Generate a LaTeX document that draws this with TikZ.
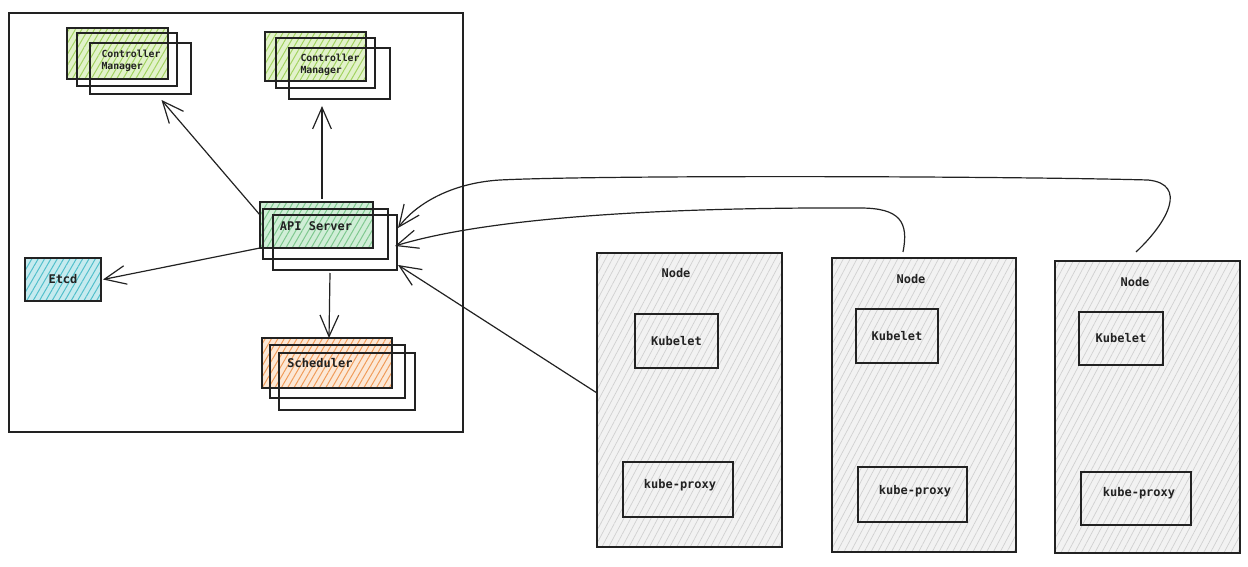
\documentclass[tikz,border=0pt]{standalone}
\usepackage{fontspec}
\setmonofont{DejaVu Sans Mono}
\usetikzlibrary{arrows.meta,patterns.meta}
\definecolor{ink}{HTML}{222222}
\definecolor{limebg}{HTML}{E2F2CB}
\definecolor{limeh}{HTML}{A3D361}
\definecolor{greenbg}{HTML}{D0EED7}
\definecolor{greenh}{HTML}{7FC88F}
\definecolor{orangebg}{HTML}{FCE8D6}
\definecolor{orangeh}{HTML}{F09C5A}
\definecolor{cyanbg}{HTML}{C6EBEF}
\definecolor{cyanh}{HTML}{52BFCB}
\definecolor{greybg}{HTML}{F2F2F2}
\definecolor{greyh}{HTML}{D0D0D0}
\tikzset{
  sk/.style={draw=ink, line width=1.3pt, inner sep=0pt, outer sep=0pt, anchor=north west},
  hatch/.style 2 args={preaction={fill=#1}, pattern={Lines[angle=60,distance=5.5pt,line width=1pt]}, pattern color=#2},
  ghatch/.style={preaction={fill=greybg}, pattern={Lines[angle=62,distance=6pt,line width=0.7pt]}, pattern color=greyh},
  txt/.style={font=\ttfamily\bfseries\fontsize{12}{14}\selectfont, text=ink},
  small/.style={font=\ttfamily\bfseries\fontsize{9.8}{12}\selectfont, text=ink, align=left, inner sep=0pt},
  lbl/.style={txt, inner sep=0pt},
  arr/.style={draw=ink, line width=1.2pt, -{Straight Barb[scale length=5.5, scale width=2.4]}},
}
\begin{document}
\begin{tikzpicture}[x=1pt,y=-1pt]
\useasboundingbox (0,0) rectangle (1248,567);
% control plane frame
\node[sk, minimum width=454pt, minimum height=419pt] (outer) at (9,13) {};
% controller manager 1
\node[sk, hatch={limebg}{limeh}, minimum width=101pt, minimum height=51pt] (cm1b) at (67,28) {};
\node[sk, minimum width=100pt, minimum height=53pt] (cm1m) at (77,33) {};
\node[sk, minimum width=101pt, minimum height=51pt] (cm1f) at (90,43) {};
\node[small] (cm1t) at (131,61) {Controller\\Manager};
% controller manager 2
\node[sk, hatch={limebg}{limeh}, minimum width=101pt, minimum height=49pt] (cm2b) at (265,32) {};
\node[sk, minimum width=99pt, minimum height=50pt] (cm2m) at (276,38) {};
\node[sk, minimum width=101pt, minimum height=51pt] (cm2f) at (289,48) {};
\node[small] (cm2t) at (330,65) {Controller\\Manager};
% api server
\node[sk, hatch={greenbg}{greenh}, minimum width=113pt, minimum height=46pt] (apib) at (260,202) {};
\node[sk, minimum width=125pt, minimum height=50pt] (apim) at (263,209) {};
\node[sk, minimum width=124pt, minimum height=55pt] (apif) at (273,215) {};
\node[lbl] (apit) at (316,226) {API Server};
% etcd
\node[sk, hatch={cyanbg}{cyanh}, minimum width=76pt, minimum height=43pt, txt] (etcd) at (25,258) {Etcd};
% scheduler
\node[sk, hatch={orangebg}{orangeh}, minimum width=130pt, minimum height=50pt] (schb) at (262,338) {};
\node[sk, minimum width=135pt, minimum height=53pt] (schm) at (270,345) {};
\node[sk, minimum width=136pt, minimum height=57pt] (schf) at (279,353) {};
\node[lbl] (scht) at (320,363) {Scheduler};
% worker nodes
\node[sk, ghatch, minimum width=185pt, minimum height=294pt] (n1) at (597,253) {};
\node[sk, ghatch, minimum width=184pt, minimum height=294pt] (n2) at (832,258) {};
\node[sk, ghatch, minimum width=185pt, minimum height=292pt] (n3) at (1055,261) {};
\node[lbl] (n1t) at (676,273) {Node};
\node[lbl] (n2t) at (911,279) {Node};
\node[lbl] (n3t) at (1135,282) {Node};
\node[sk, txt, minimum width=83pt, minimum height=54pt] (k1) at (635,314) {Kubelet};
\node[sk, txt, minimum width=82pt, minimum height=54pt] (k2) at (856,309) {Kubelet};
\node[sk, txt, minimum width=84pt, minimum height=53pt] (k3) at (1079,312) {Kubelet};
\node[sk, minimum width=110pt, minimum height=55pt] (p1) at (623,462) {};
\node[sk, minimum width=109pt, minimum height=55pt] (p2) at (858,467) {};
\node[sk, minimum width=110pt, minimum height=53pt] (p3) at (1081,472) {};
\node[lbl] (p1t) at (680,485) {kube-proxy};
\node[lbl] (p2t) at (915,491) {kube-proxy};
\node[lbl] (p3t) at (1139,493) {kube-proxy};
% connectors
\draw[arr] ([yshift=10pt]apib.west) -- ([xshift=21pt,yshift=-6pt]cm1f.south);
\draw[arr] ([xshift=5.5pt,yshift=3pt]apib.north) -- ([xshift=-17.5pt,yshift=-7pt]cm2f.south);
\draw[arr] (apib.south west) -- ([xshift=2pt]etcd.east);
\draw[arr] ([xshift=-5pt,yshift=-3pt]apif.south) -- ([xshift=2pt]schb.north);
\draw[arr] ([yshift=7pt]n1.west) -- ([xshift=1pt,yshift=5pt]apif.south east);
\draw[arr] ([xshift=-21pt,yshift=6pt]n2.north) .. controls +(6,-30) and +(40,0) .. (860,208)
   .. controls (640,207) and (480,220) .. ([xshift=-2pt,yshift=-3.5pt]apif.east);
\draw[arr] ([xshift=-11.5pt,yshift=9pt]n3.north) .. controls (1168,222) and (1188,184) .. (1148,180)
   .. controls (1000,176) and (600,175) .. (500,180)
   .. controls (450,183) and (415,205) .. ([xshift=1pt,yshift=14.5pt]apif.east);
\end{tikzpicture}
\end{document}
